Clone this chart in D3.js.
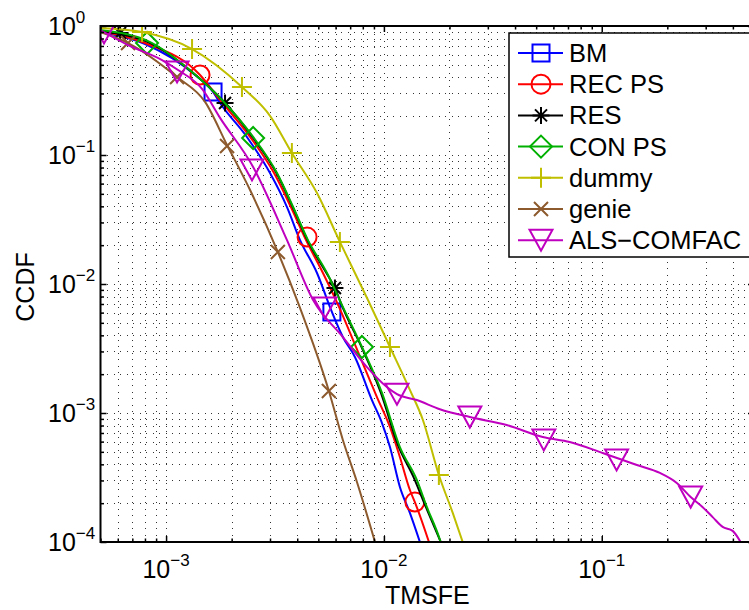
<!DOCTYPE html>
<html><head><meta charset="utf-8">
<script src="https://cdn.jsdelivr.net/npm/d3@7"></script>
<style>
html,body{margin:0;padding:0;background:#fff;}
text{font-family:"Liberation Sans",Arial,Helvetica,sans-serif;fill:#000;}
</style></head>
<body><svg id="chart" width="749" height="610"></svg>
<script>
// ---------- data ----------
const seriesNames = ["BM","REC PS","RES","CON PS","dummy","genie","ALS\u2212COMFAC"];
const seriesColors = ["#0000ff","#ff0000","#000000","#00b000","#bfbf00","#8c5a2d","#bf00bf"];
const seriesMarkers = ["square","circle","asterisk","diamond","plus","x","triangle"];

const bmTMSFE = [4.98e-4,8.01e-4,1.359e-3,1.643e-3,1.769e-3,2.35e-3,3.00e-3,3.59e-3,4.12e-3,4.93e-3,5.77e-3,6.48e-3,7.36e-3,8.81e-3,9.80e-3,1.066e-2,1.184e-2,1.316e-2,1.463e-2];
const bmCCDF  = [0.898,0.725,0.417,0.308,0.253,0.138,0.0725,0.0395,0.0219,0.01217,0.00607,0.00388,0.00272,0.00126,0.000836,0.000545,0.000267,0.000168,0.0001];
const bmMarkX = [1.643e-3,5.77e-3];
const bmMarkY = [0.308,0.00607];

const recTMSFE = [4.98e-4,8.01e-4,1.432e-3,1.769e-3,2.43e-3,3.13e-3,3.74e-3,4.39e-3,5.25e-3,6.22e-3,7.44e-3,9.29e-3,1.066e-2,1.184e-2,1.316e-2,1.387e-2,1.61e-2];
const recCCDF  = [0.915,0.738,0.417,0.267,0.138,0.0725,0.0395,0.0219,0.01217,0.00664,0.00325,0.00133,0.000779,0.000456,0.000253,0.000204,0.0001];
const recMarkX = [1.432e-3,4.44e-3,1.387e-2];
const recMarkY = [0.417,0.0231,0.000204];

const resTMSFE = [4.98e-4,6.15e-4,8.45e-4,1.316e-3,1.865e-3,2.51e-3,3.23e-3,3.83e-3,4.48e-3,5.48e-3,5.96e-3,6.48e-3,7.93e-3,9.69e-3,1.159e-2,1.374e-2,1.558e-2,1.824e-2];
const resCCDF  = [0.915,0.867,0.738,0.440,0.253,0.1355,0.0712,0.0388,0.0215,0.01196,0.0093,0.00652,0.00319,0.00143,0.000565,0.000313,0.000187,0.0001];
const resMarkX = [6.15e-4,1.865e-3,5.96e-3];
const resMarkY = [0.882,0.253,0.0093];

const conTMSFE = [4.98e-4,8.45e-4,1.316e-3,1.806e-3,2.51e-3,3.23e-3,3.83e-3,4.48e-3,5.48e-3,6.48e-3,7.93e-3,9.80e-3,1.184e-2,1.416e-2,1.574e-2,1.807e-2,1.82e-2];
const conCCDF  = [0.931,0.751,0.440,0.267,0.138,0.0725,0.0395,0.0219,0.01217,0.00664,0.00325,0.00143,0.000545,0.000303,0.000187,0.000104,0.0001];
const conMarkX = [8.18e-4,2.51e-3,7.93e-3];
const conMarkY = [0.738,0.1355,0.00325];

const dummyTMSFE = [4.98e-4,7.76e-4,1.316e-3,2.23e-3,3.00e-3,3.78e-3,4.93e-3,6.28e-3,8.45e-3,1.066e-2,1.316e-2,1.510e-2,1.788e-2,2.07e-2,2.30e-2];
const dummyCCDF  = [0.965,0.898,0.663,0.337,0.201,0.1037,0.0507,0.0212,0.00752,0.00325,0.00151,0.000883,0.000331,0.000168,0.0001];
const dummyMarkX = [7.76e-4,1.316e-3,2.23e-3,3.78e-3,6.28e-3,1.066e-2,1.788e-2];
const dummyMarkY = [0.898,0.663,0.337,0.1037,0.0212,0.00325,0.000331];

const genieTMSFE = [4.98e-4,6.69e-4,1.123e-3,1.510e-3,1.905e-3,2.43e-3,3.26e-3,4.12e-3,5.59e-3,6.48e-3,7.52e-3,9.10e-3];
const genieCCDF  = [0.898,0.738,0.402,0.258,0.1196,0.0535,0.0177,0.00652,0.00148,0.000618,0.000292,0.0001];
const genieMarkX = [6.69e-4,1.123e-3,1.905e-3,3.26e-3,5.59e-3];
const genieMarkY = [0.738,0.402,0.1174,0.0177,0.00148];

const alsTMSFE = [4.98e-4,6.69e-4,9.58e-4,1.135e-3,1.463e-3,1.769e-3,2.51e-3,3.59e-3,4.73e-3,6.48e-3,8.36e-3,1.032e-2,1.148e-2,1.416e-2,1.807e-2,2.48e-2,3.66e-2,5.36e-2,7.13e-2,0.101,0.145,0.185,0.221,0.256,0.290,0.323,0.359,0.399,0.434];
const alsCCDF  = [0.931,0.712,0.545,0.456,0.325,0.194,0.0807,0.0219,0.00752,0.00388,0.00227,0.00159,0.00140,0.00126,0.00107,0.00093,0.000807,0.000652,0.000596,0.000490,0.000395,0.000343,0.000287,0.000223,0.000187,0.000156,0.000131,0.000122,0.0001];
const alsMarkX = [5.19e-4,1.123e-3,2.48e-3,5.36e-3,1.148e-2,2.48e-2,5.42e-2,0.117,0.256];
const alsMarkY = [0.882,0.440,0.0765,0.00652,0.00140,0.00093,0.000618,0.000432,0.000223];

const xMajorTicks = [1e-3,1e-2,1e-1];
const xTickExp = ["\u22123","\u22122","\u22121"];
const yMajorTicks = [1,1e-1,1e-2,1e-3,1e-4];
const yTickExp = ["0","\u22121","\u22122","\u22123","\u22124"];
const xLabel = "TMSFE";
const yLabel = "CCDF";

const seriesX = [bmTMSFE,recTMSFE,resTMSFE,conTMSFE,dummyTMSFE,genieTMSFE,alsTMSFE];
const seriesY = [bmCCDF,recCCDF,resCCDF,conCCDF,dummyCCDF,genieCCDF,alsCCDF];
const markX = [bmMarkX,recMarkX,resMarkX,conMarkX,dummyMarkX,genieMarkX,alsMarkX];
const markY = [bmMarkY,recMarkY,resMarkY,conMarkY,dummyMarkY,genieMarkY,alsMarkY];

// ---------- layout ----------
const L = 100.5, R = 754, T = 26, B = 542;
const svg = d3.select("#chart");
const x = d3.scaleLog().domain([5e-4, 0.5]).range([L, R]);
const y = d3.scaleLog().domain([1e-4, 1]).range([B, T]);

function minors(lo, hi, kLo, kHi){
  const out=[];
  for(let k=kLo;k<=kHi;k++) for(let m=1;m<=9;m++){
    const v=m*Math.pow(10,k);
    if(v>=lo*0.9999 && v<=hi*1.0001) out.push(v);
  }
  return out;
}
const xAll = minors(5e-4,0.5,-4,-1);
const yAll = minors(1e-4,1,-4,0);
const xMinor = xAll.filter(v=>!xMajorTicks.some(t=>Math.abs(t-v)/t<1e-6));
const yMinor = yAll.filter(v=>!yMajorTicks.some(t=>Math.abs(t-v)/t<1e-6));

svg.append("rect").attr("x",0).attr("y",0).attr("width",749).attr("height",610).attr("fill","#fff");

// grid
const grid = svg.append("g").attr("class","grid");
grid.append("g").attr("transform",`translate(0,${B})`)
  .call(d3.axisBottom(x).tickValues(xAll.filter(v=>x(v)>L+1 && x(v)<R-1)).tickSize(-(B-T)).tickFormat(""));
grid.append("g").attr("transform",`translate(${L},0)`)
  .call(d3.axisLeft(y).tickValues(yAll.filter(v=>y(v)>T+1 && y(v)<B-1)).tickSize(-(R-L)).tickFormat(""));
grid.selectAll(".domain").remove();
grid.selectAll("line").attr("stroke","#333").attr("stroke-width",1).attr("stroke-dasharray","1,5.5").attr("shape-rendering","crispEdges");

// clip
svg.append("clipPath").attr("id","clip").append("rect").attr("x",L).attr("y",T).attr("width",R-L).attr("height",B-T);

const plot = svg.append("g").attr("clip-path","url(#clip)");
const line = d3.line().x(d=>x(d[0])).y(d=>y(d[1])).curve(d3.curveMonotoneX);

function marker(g, type, cx, cy, color){
  const s = g.append("g").attr("transform",`translate(${cx},${cy})`)
    .attr("fill","none").attr("stroke",color).attr("stroke-width",2);
  if(type==="square") s.append("rect").attr("x",-8.5).attr("y",-8.5).attr("width",17).attr("height",17);
  else if(type==="circle") s.append("circle").attr("r",9.5);
  else if(type==="diamond") s.append("path").attr("d","M0,-11L11,0L0,11L-11,0Z");
  else if(type==="plus") s.append("path").attr("d","M-10,0H10M0,-10V10");
  else if(type==="x") s.append("path").attr("d","M-7,-7L7,7M-7,7L7,-7");
  else if(type==="asterisk") s.append("path").attr("d","M-8.5,0H8.5M0,-8.5V8.5M-6,-6L6,6M-6,6L6,-6");
  else if(type==="triangle") s.append("path").attr("d","M-11.5,-10.5L11.5,-10.5L0,10.5Z");
}

seriesNames.forEach((name,i)=>{
  const pts = seriesX[i].map((v,j)=>[v, seriesY[i][j]]);
  plot.append("path").datum(pts).attr("d",line).attr("fill","none")
    .attr("stroke",seriesColors[i]).attr("stroke-width",2).attr("stroke-linejoin","round");
  markX[i].forEach((v,j)=>marker(plot, seriesMarkers[i], x(v), y(markY[i][j]), seriesColors[i]));
});

// axes box with inward ticks
const ax = svg.append("g");
function tickAxis(gen, scale, vals, size, tr){
  const g = ax.append("g").attr("transform",tr)
    .call(gen(scale).tickValues(vals).tickSize(size).tickFormat(""));
  g.selectAll(".domain").remove();
  g.selectAll("line").attr("stroke","#000").attr("stroke-width",1.5);
}
tickAxis(d3.axisBottom, x, xMajorTicks, -6, `translate(0,${B})`);
tickAxis(d3.axisBottom, x, xMinor, -3.5, `translate(0,${B})`);
tickAxis(d3.axisTop, x, xMajorTicks, -6, `translate(0,${T})`);
tickAxis(d3.axisTop, x, xMinor, -3.5, `translate(0,${T})`);
tickAxis(d3.axisLeft, y, yMajorTicks, -6, `translate(${L},0)`);
tickAxis(d3.axisLeft, y, yMinor, -3.5, `translate(${L},0)`);
tickAxis(d3.axisRight, y, yMajorTicks, -6, `translate(${R},0)`);
tickAxis(d3.axisRight, y, yMinor, -3.5, `translate(${R},0)`);
ax.append("rect").attr("x",L).attr("y",T).attr("width",R-L).attr("height",B-T)
  .attr("fill","none").attr("stroke","#000").attr("stroke-width",2);

// tick labels
xMajorTicks.forEach((v,i)=>{
  const t = svg.append("text").attr("x",x(v)).attr("y",578).attr("text-anchor","middle").attr("font-size",25);
  t.append("tspan").text("10");
  t.append("tspan").attr("font-size",17).attr("dy",-12).text(xTickExp[i]);
});
yMajorTicks.forEach((v,i)=>{
  const t = svg.append("text").attr("x",48).attr("y",y(v)+9).attr("text-anchor","start").attr("font-size",25);
  t.append("tspan").text("10");
  t.append("tspan").attr("font-size",17).attr("dy",-12).text(yTickExp[i]);
});

svg.append("text").attr("x",(L+R)/2).attr("y",604).attr("text-anchor","middle").attr("font-size",25).text(xLabel);
svg.append("text").attr("transform","translate(34,287) rotate(-90)").attr("text-anchor","middle").attr("font-size",25).text(yLabel);

// legend
const lg = svg.append("g");
lg.append("rect").attr("x",509).attr("y",33).attr("width",245).attr("height",224)
  .attr("fill","#fff").attr("stroke","#000").attr("stroke-width",1.5);
seriesNames.forEach((name,i)=>{
  const cy = 53 + i*31.2;
  lg.append("line").attr("x1",518).attr("x2",563).attr("y1",cy).attr("y2",cy)
    .attr("stroke",seriesColors[i]).attr("stroke-width",2);
  marker(lg, seriesMarkers[i], 541, cy, seriesColors[i]);
  lg.append("text").attr("x",569).attr("y",cy+9).attr("font-size",25.5).text(name);
});
</script></body></html>
